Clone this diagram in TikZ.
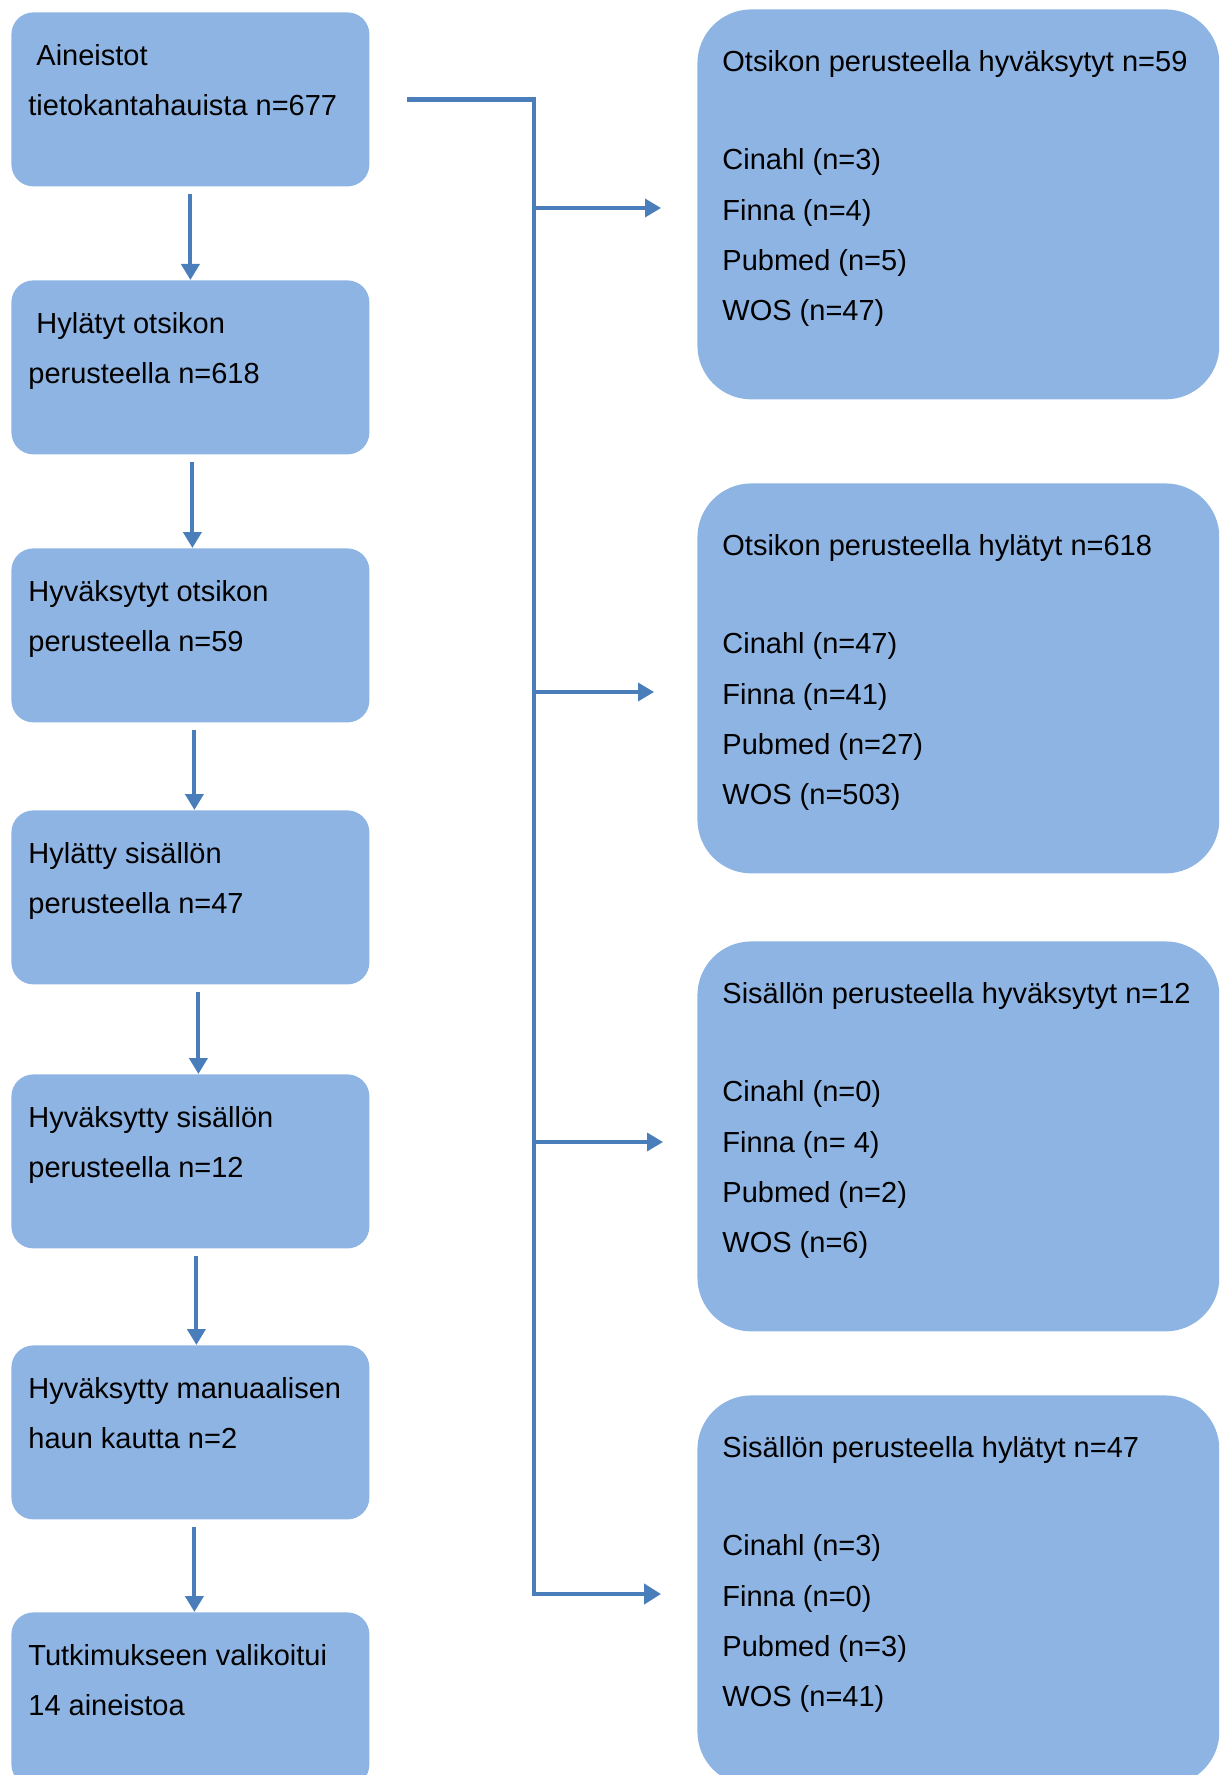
\documentclass[tikz,border=0pt]{standalone}
\usepackage{fontspec}
\setmainfont{Liberation Sans}
\usetikzlibrary{arrows.meta}
\definecolor{BoxBlue}{RGB}{142,180,227}
\definecolor{LineBlue}{RGB}{74,126,187}

\tikzset{
  lbox/.style={fill=BoxBlue, rounded corners=11pt, minimum width=179pt, minimum height=87pt, inner sep=0pt, anchor=north west},
  rbox/.style={fill=BoxBlue, rounded corners=27pt, minimum width=261pt, minimum height=195pt, inner sep=0pt, anchor=north west},
  boxtext/.style={anchor=north west, inner sep=0pt, align=left, font=\fontsize{14.5}{25.15}\selectfont},
  flow/.style={draw=LineBlue, line width=2pt, shorten <=3.5pt, -{Triangle[width=9pt,length=8pt]}},
  branch/.style={draw=LineBlue, line width=1.8pt, shorten >=18pt, -{Triangle[width=9pt,length=8pt]}},
  trunk/.style={draw=LineBlue, line width=2.3pt, shorten >=18pt, -{Triangle[width=10pt,length=8.5pt]}}
}

\begin{document}
\begin{tikzpicture}[x=0.5pt,y=-0.5pt]
\useasboundingbox (0,0) rectangle (1219,1775);
\clip (0,0) rectangle (1219,1775);

% Left column
\node[lbox] (b1) at (11,12) {};
\node[lbox] (b2) at (11,280) {};
\node[lbox] (b3) at (11,548) {};
\node[lbox] (b4) at (11,810) {};
\node[lbox] (b5) at (11,1074) {};
\node[lbox] (b6) at (11,1345) {};
\node[lbox] (b7) at (11,1612) {};

\node[boxtext] (t1) at ([shift={(17,18)}]b1.north west) {\strut\ Aineistot\\tietokantahauista n=677};
\node[boxtext] (t2) at ([shift={(17,18)}]b2.north west) {\strut\ Hylätyt otsikon\\perusteella n=618};
\node[boxtext] (t3) at ([shift={(17,18)}]b3.north west) {\strut Hyväksytyt otsikon\\perusteella n=59};
\node[boxtext] (t4) at ([shift={(17,18)}]b4.north west) {\strut Hylätty sisällön\\perusteella n=47};
\node[boxtext] (t5) at ([shift={(17,18)}]b5.north west) {\strut Hyväksytty sisällön\\perusteella n=12};
\node[boxtext] (t6) at ([shift={(17,18)}]b6.north west) {\strut Hyväksytty manuaalisen\\haun kautta n=2};
\node[boxtext] (t7) at ([shift={(17,18)}]b7.north west) {\strut Tutkimukseen valikoitui\\14 aineistoa};

\foreach \a/\b/\dx in {b1/b2/0,b2/b3/2,b3/b4/4,b4/b5/8,b5/b6/6,b6/b7/4}
  \draw[flow] ([shift={(\dx,0)}]\a.south) -- ([shift={(\dx,0)}]\b.north);

% Right column
\node[rbox] (ra) at (697,9) {};
\node[rbox] (rb) at (697,483) {};
\node[rbox] (rc) at (697,941) {};
\node[rbox] (rd) at (697,1395) {};

\node[boxtext] (sa) at ([shift={(25,27)}]ra.north west) {\strut Otsikon perusteella hyväksytyt n=59\\[24pt]Cinahl (n=3)\\Finna (n=4)\\Pubmed (n=5)\\WOS (n=47)};
\node[boxtext] (sb) at ([shift={(25,37)}]rb.north west) {\strut Otsikon perusteella hylätyt n=618\\[24pt]Cinahl (n=47)\\Finna (n=41)\\Pubmed (n=27)\\WOS (n=503)};
\node[boxtext] (sc) at ([shift={(25,27)}]rc.north west) {\strut Sisällön perusteella hyväksytyt n=12\\[24pt]Cinahl (n=0)\\Finna (n= 4)\\Pubmed (n=2)\\WOS (n=6)};
\node[boxtext] (sd) at ([shift={(25,27)}]rd.north west) {\strut Sisällön perusteella hylätyt n=47\\[24pt]Cinahl (n=3)\\Finna (n=0)\\Pubmed (n=3)\\WOS (n=41)};

% Bracket
\coordinate (j1) at (534,208);
\coordinate (j2) at (534,692);
\coordinate (j3) at (534,1142);
\coordinate (j4) at (534,1594);

\draw[trunk] ([shift={(37,0)}]b1.east) -| (j4) -- (j4 -| rd.west);
\foreach \j/\r/\gap in {j1/ra/18pt,j2/rb/21.5pt,j3/rc/17pt}
  \draw[branch, shorten >=\gap] (\j) -- (\j -| \r.west);

\end{tikzpicture}
\end{document}
